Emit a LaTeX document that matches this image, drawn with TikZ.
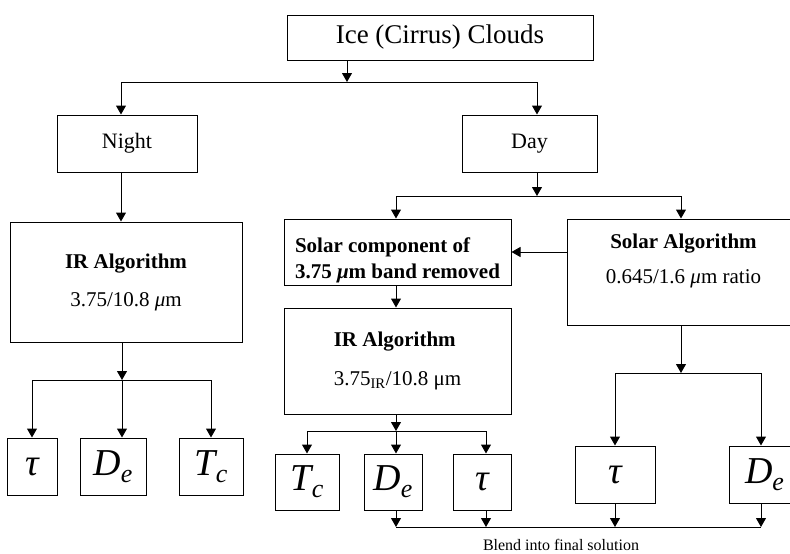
\documentclass[tikz,border=0pt]{standalone}
\usepackage{fontspec}
\setmainfont{Liberation Serif}
\usetikzlibrary{arrows.meta}

\tikzset{
  box/.style={draw,rectangle,inner sep=0pt},
  sym/.style={box,font=\fontsize{38}{38}\selectfont\itshape},
  algtext/.style={font=\fontsize{21}{#1}\selectfont},
}
\newcommand{\symsub}[2]{#1\raisebox{-7pt}{\fontsize{26}{26}\selectfont #2}}

\begin{document}
\begin{tikzpicture}[x=1pt,y=-1pt,line width=1pt,>={Triangle[width=10pt,length=9pt]}]
  \useasboundingbox (0,0) rectangle (790,554);

  \node[box,minimum width=306,minimum height=45,font=\fontsize{27}{27}\selectfont](Ice) at(440,37.5) {Ice (Cirrus) Clouds};
  \node[box,minimum width=140,minimum height=57,font=\fontsize{22}{22}\selectfont](Night) at(127,143.5) {Night};
  \node[box,minimum width=135,minimum height=57,font=\fontsize{22}{22}\selectfont](Day) at(529.5,143.5) {Day};

  % night branch
  \node[box,minimum width=232,minimum height=120,align=center,algtext=38](IRn) at(126,282)
    {\textbf{IR Algorithm}\\3.75/10.8 \textit{μ}m};
  \node[sym,minimum width=50,minimum height=57](TauN) at(32,466.5) {τ};
  \node[sym,minimum width=66,minimum height=57](DeN) at(113,466.5) {\symsub{D}{e}};
  \node[sym,minimum width=64,minimum height=57](TcN) at(211,466.5) {\symsub{T}{c}};

  % day branch
  \node[box,minimum width=227,minimum height=66,align=left,text height=52pt,text depth=0pt,algtext=26](SolComp) at(397.5,252)
    {\bfseries Solar component of\\\bfseries 3.75 \textit{μ}m band removed};
  \node[box,minimum width=233,minimum height=106,align=center,text depth=27pt,algtext=35](SolAlg) at(683.5,272)
    {\textbf{Solar Algorithm}\\0.645/1.6 \textit{μ}m ratio};
  \node[box,minimum width=227,minimum height=106,align=left,algtext=39](IRd) at(397.5,361)
    {\textbf{IR Algorithm}\\3.75\textsubscript{IR}/10.8 μm};
  \node[sym,minimum width=64,minimum height=56](TcD) at(307,482) {\symsub{T}{c}};
  \node[sym,minimum width=58,minimum height=56](DeD) at(393,482) {\symsub{D}{e}};
  \node[sym,minimum width=58,minimum height=56](TauD) at(482,482) {τ};
  \node[sym,minimum width=80,minimum height=57](TauS) at(615,474.5) {τ};
  \node[sym,minimum width=71,minimum height=57](DeS) at(764.5,474.5) {\symsub{D}{e}};
  \node[anchor=base,inner sep=0pt,font=\fontsize{16}{16}\selectfont](Blend) at(561,550) {Blend into final solution};

  % junctions of the branching lines
  \coordinate (jI) at(347,82);  \coordinate (bN) at(121,82);  \coordinate (bD) at(537,82);
  \coordinate (jN) at(122,380); \coordinate (bN1) at(32,380); \coordinate (bN3) at(211,380);
  \coordinate (jD) at(537,196); \coordinate (bD1) at(396,196); \coordinate (bD2) at(681,196);
  \coordinate (jR) at(396,431); \coordinate (bR1) at(307,431); \coordinate (bR3) at(486,431);
  \coordinate (jS) at(681,373); \coordinate (bS1) at(615,373); \coordinate (bS2) at(761,373);
  \coordinate (f1) at(396,527); \coordinate (f2) at(486,527); \coordinate (f3) at(615,527);
  \coordinate (f4) at(761,527);

  \foreach \x/\y in{bN/bD, bN1/bN3, bD1/bD2, bR1/bR3, bS1/bS2, f1/f4}{
    \draw(\x)--(\y);
  }

  \foreach \x/\y in{Ice.south -| jI/jI, bN/bN |- Night.north, bD/bD |- Day.north,
    bN |- Night.south/bN |- IRn.north, jN |- IRn.south/jN,
    bN1/bN1 |- TauN.north, jN/jN |- DeN.north, bN3/bN3 |- TcN.north,
    Day.south -| jD/jD, bD1/bD1 |- SolComp.north, bD2/bD2 |- SolAlg.north,
    SolAlg.west |- SolComp/SolComp.east, bD1 |- SolComp.south/bD1 |- IRd.north,
    jR |- IRd.south/jR, bR1/bR1 |- TcD.north, jR/jR |- DeD.north, bR3/bR3 |- TauD.north,
    jS |- SolAlg.south/jS, bS1/bS1 |- TauS.north, bS2/bS2 |- DeS.north,
    f1 |- DeD.south/f1, f2 |- TauD.south/f2, f3 |- TauS.south/f3, f4 |- DeS.south/f4%
  }{
    \draw[->](\x)--(\y);
  }
\end{tikzpicture}
\end{document}
